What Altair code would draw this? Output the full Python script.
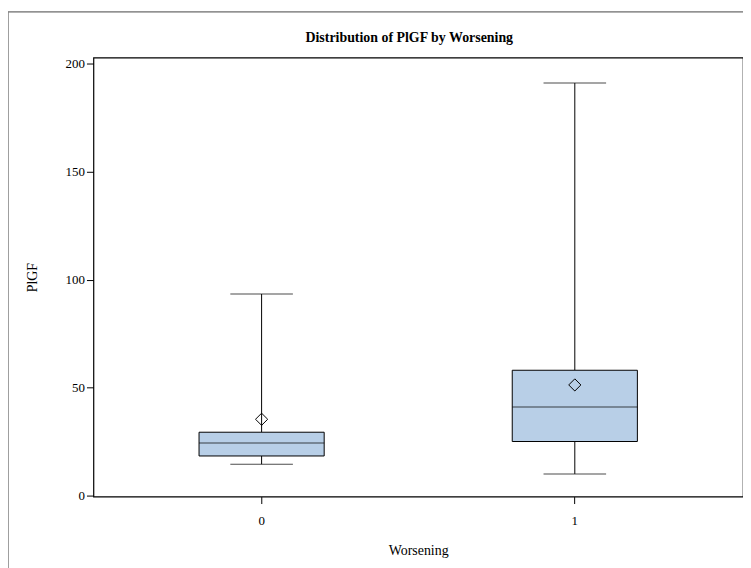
import altair as alt
import pandas as pd

groups = ["0", "1"]
whisk_lo = [14.5, 10.0]
q1 = [18.3, 25.0]
median = [24.3, 41.0]
q3 = [29.3, 58.0]
whisk_hi = [93.3, 191.0]
means = [35.3, 51.2]
title_text = ["Distribution of PlGF by Worsening"]

df = pd.DataFrame({
    "Worsening": groups,
    "lo": whisk_lo,
    "q1": q1,
    "med": median,
    "q3": q3,
    "hi": whisk_hi,
    "mean": means,
})
tdf = pd.DataFrame({"t": title_text})

FONT = "Liberation Serif"
W, H = 654, 442

xenc = alt.X(
    "Worsening:N",
    title="Worsening",
    scale=alt.Scale(type="band", paddingInner=0, paddingOuter=0.037),
    axis=alt.Axis(labelAngle=0, tickSize=7, labelPadding=11, titlePadding=16,
                  domain=False, ticks=True, tickColor="black"),
)
yscale = alt.Scale(domain=[-0.5, 202.8], nice=False, zero=False)
yaxis = alt.Axis(values=[0, 50, 100, 150, 200], tickSize=7, labelPadding=2,
                 titlePadding=26, domain=False, tickColor="black")

base = alt.Chart(df).encode(x=xenc)

whisk_low = base.mark_rule(color="black", strokeWidth=1).encode(
    y=alt.Y("lo:Q", scale=yscale, axis=yaxis, title="PlGF"), y2="q1:Q")
whisk_high = base.mark_rule(color="black", strokeWidth=1).encode(
    y=alt.Y("q3:Q"), y2="hi:Q")
cap_lo = base.mark_tick(color="black", size=63, thickness=1).encode(y="lo:Q")
cap_hi = base.mark_tick(color="black", size=63, thickness=1).encode(y="hi:Q")
box = base.mark_bar(size=126, fill="#B8CFE7", stroke="black", strokeWidth=1).encode(
    y="q1:Q", y2="q3:Q")
med = base.mark_tick(color="black", size=126, thickness=1).encode(y="med:Q")
mean_pt = base.mark_point(shape="diamond", filled=False, size=150, color="black",
                          strokeWidth=1, opacity=1).encode(y="mean:Q")

border_left = alt.Chart(df).mark_rule(color="#808080", strokeWidth=1, clip=False).encode(
    x=alt.value(-86), y=alt.value(-46), y2=alt.value(530))
border_top = alt.Chart(df).mark_rule(color="#808080", strokeWidth=1, clip=False).encode(
    x=alt.value(-86), x2=alt.value(700), y=alt.value(-46))

title_mark = alt.Chart(tdf).mark_text(
    font=FONT, fontSize=14, fontWeight="bold", color="black",
    align="center", baseline="middle", clip=False,
).encode(text="t:N", x=alt.value(318), y=alt.value(-20))

chart = alt.layer(
    whisk_low, whisk_high, cap_lo, cap_hi, box, med, mean_pt,
    border_left, border_top, title_mark
).properties(
    width=W,
    height=H,
    autosize=alt.AutoSizeParams(type="none"),
    padding={"left": 86, "top": 48, "right": 0, "bottom": 70},
).configure_axis(
    labelFont=FONT, labelFontSize=13, labelColor="black",
    titleFont=FONT, titleFontSize=14, titleFontWeight="normal", titleColor="black",
    grid=False,
).configure_view(
    stroke="black", strokeWidth=1.2
)

chart.save("out.html", embed_options={"renderer": "svg", "actions": False})
